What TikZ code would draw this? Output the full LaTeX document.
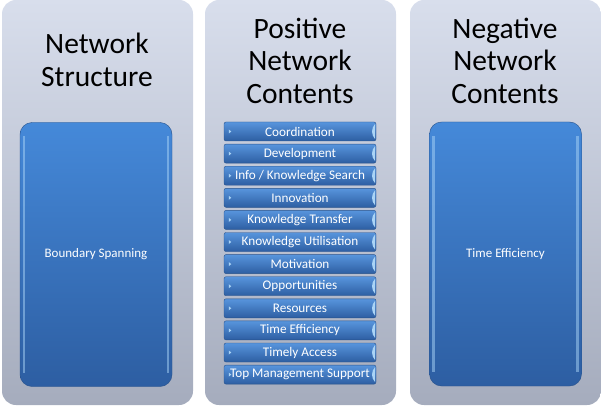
\documentclass[tikz,border=0pt]{standalone}
\usepackage{fontspec}
\setmainfont{Carlito}
\usetikzlibrary{positioning}
\definecolor{paneltop}{HTML}{D8DEEC}
\definecolor{panelbot}{HTML}{A5ACBD}
\definecolor{bluetop}{HTML}{4589D9}
\definecolor{bluebot}{HTML}{2D5EA2}
\definecolor{blueedge}{HTML}{28528C}
\definecolor{glint}{HTML}{AAD4F6}

\tikzset{
  panel/.style={rounded corners=14pt, top color=paneltop, bottom color=panelbot,
    minimum width=191pt, minimum height=405pt, inner sep=0pt},
  headline/.style={align=center, text=black, font=\fontsize{29.5}{32.5}\selectfont},
  bigcard/.style={rounded corners=12pt, top color=bluetop, bottom color=bluebot,
    draw=blueedge, minimum width=152pt, minimum height=264pt, text=white,
    font=\fontsize{13}{15}\selectfont},
  itembar/.style={rounded corners=2pt, top color=bluetop!90!white, bottom color=bluebot,
    draw=blueedge, minimum width=152pt, minimum height=19pt, inner sep=0pt,
    text=white, font=\fontsize{13.2}{15}\selectfont}
}

\begin{document}
\begin{tikzpicture}[x=1pt, y=-1pt]
  \useasboundingbox (0,0) rectangle (601,406);

  % three grey columns
  \node[panel] (structpanel) at (97.5,202.5) {};
  \node[panel] (pospanel) at (300.5,202.5) {};
  \node[panel] (negpanel) at (505.5,202.5) {};

  \node[headline] (structtitle) at (97,60) {Network\\Structure};
  \node[headline] (postitle) at (300,60.5) {Positive\\Network\\Contents};
  \node[headline] (negtitle) at (505,60.5) {Negative\\Network\\Contents};

  % network structure
  \node[bigcard] (boundary) at (96,254.5) {Boundary Spanning};
  \draw[glint, line width=2.5pt, opacity=.5] ([xshift=4pt,yshift=-14pt]boundary.north west) -- ([xshift=4pt,yshift=14pt]boundary.south west);
  \draw[glint, line width=2.5pt, opacity=.5] ([xshift=-4pt,yshift=-14pt]boundary.north east) -- ([xshift=-4pt,yshift=14pt]boundary.south east);

  % negative contents
  \node[bigcard] (negtime) at (505.5,254) {Time Efficiency};
  \draw[glint, line width=2.5pt, opacity=.5] ([xshift=4pt,yshift=-14pt]negtime.north west) -- ([xshift=4pt,yshift=14pt]negtime.south west);
  \draw[glint, line width=2.5pt, opacity=.5] ([xshift=-4pt,yshift=-14pt]negtime.north east) -- ([xshift=-4pt,yshift=14pt]negtime.south east);

  % positive contents
  \foreach \lbl [count=\i] in {Coordination, Development, {Info / Knowledge\ Search},
      Innovation, {Knowledge\ Transfer}, {Knowledge\ Utilisation}, Motivation,
      Opportunities, Resources, Time Efficiency, Timely Access, Top Management Support} {
    \node[itembar] (item\i) at (300,{131.5+22.1*(\i-1)}) {\lbl};
    \fill[glint] ([xshift=5pt,yshift=2pt]item\i.west) -- ++(2.5,2) -- ++(-2.5,2) -- cycle;
    \fill[glint] ([xshift=-1pt,yshift=-2pt]item\i.north east) to[bend right=45]
      ([xshift=-1pt,yshift=2pt]item\i.south east) -- cycle;
  }
\end{tikzpicture}
\end{document}
